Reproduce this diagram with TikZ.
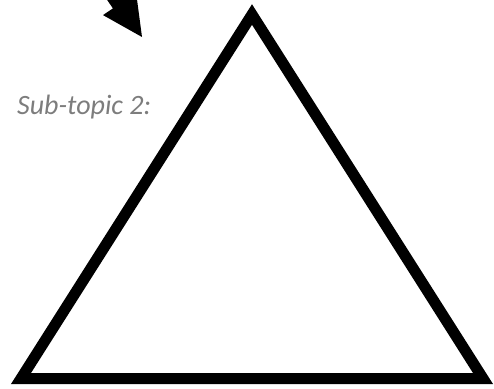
\documentclass[tikz,border=0pt]{standalone}
\usepackage{fontspec}
\setmainfont{Carlito}
\definecolor{labelgray}{RGB}{125,125,125}
\begin{document}
\begin{tikzpicture}[x=1pt,y=-1pt,
  outline/.style={draw=black,line width=11pt,miter limit=10,line join=miter},
  bigarrow/.style={fill=black,draw=none},
  labeltext/.style={font=\itshape\fontsize{28}{33}\selectfont,text=labelgray,inner sep=0pt}]
\useasboundingbox (0,0) rectangle (494,388);
\clip (0,0) rectangle (494,388);
% triangle
\coordinate (apex) at (252,14.5);
\coordinate (bl) at (21,378.5);
\coordinate (br) at (483,378.5);
\draw[outline] (bl) -- (apex) -- (br) -- cycle;
% arrow
\coordinate (tip) at (142,37);
\coordinate (lb) at (103.0,15.1);
\coordinate (ls) at (112.9,8.4);
\coordinate (lf) at (79.2,-41.3);
\coordinate (rf) at (92.5,-50.3);
\coordinate (rs) at (126.2,-0.6);
\coordinate (rb) at (136.1,-7.3);
\fill[bigarrow] (tip) -- (lb) -- (ls) -- (lf) -- (rf) -- (rs) -- (rb) -- cycle;
% label
\node[labeltext,anchor=base west] (lbl) at (17,114) {Sub-topic 2:};
\end{tikzpicture}
\end{document}
